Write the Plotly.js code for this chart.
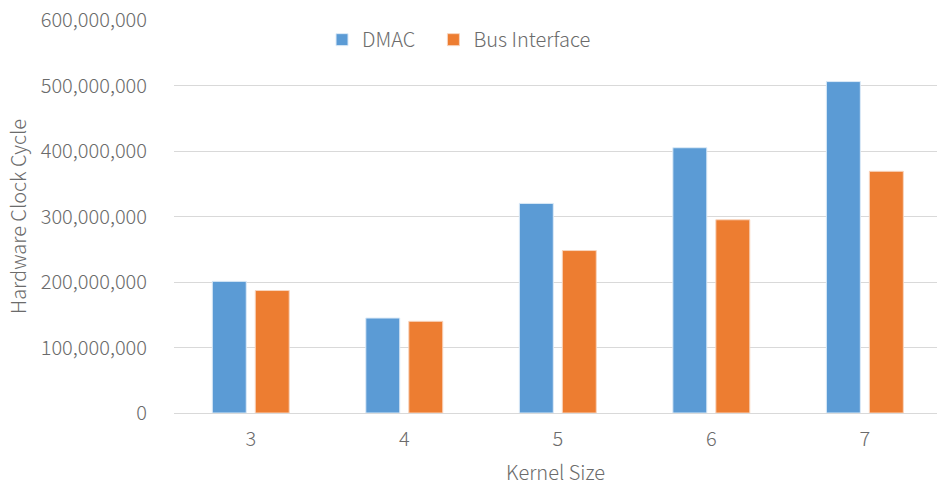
<!DOCTYPE html>
<html>
<head>
<meta charset="utf-8">
<script src="https://cdn.plot.ly/plotly-3.0.1.min.js"></script>
<style>html,body{margin:0;padding:0;background:#fff;}#chart{width:937px;height:487px;}</style>
</head>
<body>
<div id="chart"></div>
<script>
const categories = ["3", "4", "5", "6", "7"];
const dmac = [201000000, 145000000, 320000000, 405000000, 506000000];
const busInterface = [187000000, 140000000, 248000000, 295000000, 369000000];
const yTickVals = [0, 100000000, 200000000, 300000000, 400000000, 500000000, 600000000];
const yTickText = ["0", "100,000,000", "200,000,000", "300,000,000", "400,000,000", "500,000,000", "600,000,000"];

const FONT = "Noto Sans CJK JP, Noto Sans, sans-serif";
const TXT = "#6b6b6b";
const legendStyle = {orientation: "h", xanchor: "left", y: 0.95, yanchor: "middle",
                     font: {size: 20, color: TXT, weight: 300}, bgcolor: "rgba(0,0,0,0)"};
const traces = [
  {type: "bar", name: "DMAC", x: categories, y: dmac, legend: "legend",
   marker: {color: "#5B9BD5", line: {color: "#DCEAF7", width: 1}}},
  {type: "bar", name: "Bus Interface", x: categories, y: busInterface, legend: "legend2",
   marker: {color: "#ED7D31", line: {color: "#F8D5BE", width: 1}}}
];
const layout = {
  width: 937, height: 487,
  margin: {l: 174, r: 0, t: 20, b: 74},
  paper_bgcolor: "#fff", plot_bgcolor: "#fff",
  font: {family: FONT, color: TXT, size: 20, weight: 300},
  barmode: "group", bargap: 0.44, bargroupgap: 0.21,
  showlegend: true,
  legend: Object.assign({x: 0.194}, legendStyle),
  legend2: Object.assign({x: 0.34}, legendStyle),
  xaxis: {type: "category", range: [-0.5, 4.47], showgrid: false, zeroline: false,
          showline: true, linecolor: "#D9D9D9", linewidth: 1, ticks: "", ticklabelstandoff: 8,
          tickfont: {size: 20, color: TXT, weight: 300},
          title: {text: "Kernel Size", font: {size: 20, color: TXT, weight: 300}, standoff: 14}, fixedrange: true},
  yaxis: {range: [0, 600000000], tickvals: yTickVals, ticktext: yTickText,
          showgrid: true, gridcolor: "#D9D9D9", gridwidth: 1, zeroline: false, showline: false,
          ticks: "", ticklabelstandoff: 26, tickfont: {size: 20, color: TXT, weight: 300},
          title: {text: "Hardware Clock Cycle", font: {size: 20, color: TXT, weight: 300}, standoff: 8}, fixedrange: true}
};
Plotly.newPlot("chart", traces, layout, {displayModeBar: false, staticPlot: true});
</script>
</body>
</html>
